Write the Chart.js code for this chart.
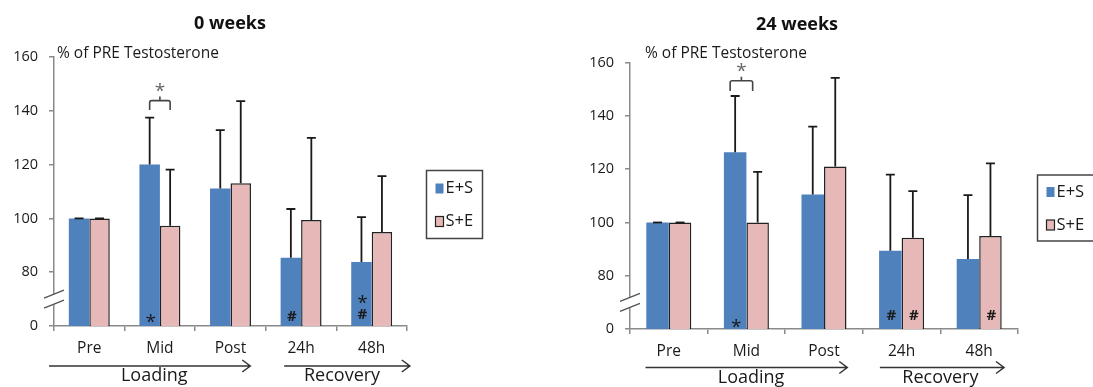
<!DOCTYPE html>
<html>
<head>
<meta charset="utf-8">
<script src="https://cdn.jsdelivr.net/npm/chart.js@4.4.1/dist/chart.umd.min.js"></script>
<style>
body{margin:0;background:#fff;}
canvas{position:absolute;top:0;}
#week0{left:0;}
#week24{left:560px;}
</style>
</head>
<body>
<canvas id="week0" width="560" height="387"></canvas>
<canvas id="week24" width="533" height="387"></canvas>
<script>
// data (% of PRE testosterone, mean and SD)
const categories=['Pre','Mid','Post','24h','48h'];
const yTicks=[60,80,100,120,140,160]; // 60 is shown as "0" (broken axis)

const week0ES=[100,120,111.1,85.4,83.8];
const week0SE=[100,97.3,113.1,99.4,94.9];
const week0ESsd=[0,17.5,21.7,18.1,16.7];
const week0SEsd=[0,20.8,30.5,30.5,20.8];

const week24ES=[100,126.4,110.5,89.4,86.3];
const week24SE=[100,100,121,94.3,94.9];
const week24ESsd=[0,21.1,25.5,28.6,24];
const week24SEsd=[0,19,33.3,17.5,27.3];

// significance marks: [dataset, category, symbol, y value]
const week0Marks=[[0,1,'*',62.9],[0,3,'#',63.5],[0,4,'*',69.9],[0,4,'#',64.1]];
const week24Marks=[[0,1,'*',62],[0,3,'#',64.8],[1,3,'#',64.8],[1,4,'#',64.8]];

Chart.defaults.font.family="'Open Sans', sans-serif";

const FONT="'Open Sans', sans-serif";

function makeExtras(p){
return{
id:'extras',
afterDatasetsDraw(chart){
const ctx=chart.ctx,y=chart.scales.y;
ctx.save();
// error bars (upper only)
ctx.strokeStyle='#1a1a1a';ctx.lineWidth=1.8;
chart.data.datasets.forEach((ds,di)=>{
chart.getDatasetMeta(di).data.forEach((bar,i)=>{
const top=y.getPixelForValue(ds.data[i]+p.sd[di][i]);
ctx.beginPath();
ctx.moveTo(bar.x,bar.y);ctx.lineTo(bar.x,top);
ctx.moveTo(bar.x-4.5,top);ctx.lineTo(bar.x+4.5,top);
ctx.stroke();
});
});
// marks inside bars
ctx.fillStyle='#1a1a1a';ctx.textAlign='center';ctx.textBaseline='middle';
p.marks.forEach(m=>{
const bar=chart.getDatasetMeta(m[0]).data[m[1]];
ctx.font=(m[2]==='*'?'19px ':'bold 15px ')+FONT;
ctx.fillText(m[2],bar.x+1,y.getPixelForValue(m[3])+(m[2]==='*'?4:0));
});
// bracket over Mid
const a=chart.getDatasetMeta(0).data[1].x+p.brDx,b=chart.getDatasetMeta(1).data[1].x+p.brDx;
const yb=y.getPixelForValue(p.bracket[0]),yt=y.getPixelForValue(p.bracket[1]),ys=y.getPixelForValue(p.bracket[2]);
const mid=(a+b)/2;
ctx.strokeStyle='#444';ctx.lineWidth=1.6;
ctx.beginPath();
ctx.moveTo(a,yb);ctx.lineTo(a,yt+2);ctx.quadraticCurveTo(a,yt,a+2,yt);
ctx.lineTo(b-2,yt);ctx.quadraticCurveTo(b,yt,b,yt+2);ctx.lineTo(b,yb);
ctx.moveTo(mid,yt);ctx.lineTo(mid,yt-4);
ctx.stroke();
ctx.fillStyle='#666';ctx.font='19px '+FONT;
ctx.fillText('*',mid,ys+4);
ctx.restore();
},
afterDraw(chart){
const ctx=chart.ctx,x=chart.scales.x,y=chart.scales.y,area=chart.chartArea;
ctx.save();
// title + unit label
ctx.fillStyle='#111';ctx.textAlign='center';ctx.textBaseline='middle';
ctx.font='bold 18px '+FONT;
ctx.fillText(p.title,p.titleX,p.titleY);
ctx.textAlign='left';ctx.font='15.5px '+FONT;ctx.fillStyle='#1a1a1a';
ctx.fillText('% of PRE Testosterone',p.unitX,54);
// axis break
const cx=area.left,cy=y.getPixelForValue(70);
ctx.fillStyle='#fff';
ctx.beginPath();
ctx.moveTo(cx-10,cy-1);ctx.lineTo(cx+10,cy-9);ctx.lineTo(cx+10,cy+1);ctx.lineTo(cx-10,cy+9);
ctx.closePath();ctx.fill();
ctx.strokeStyle='#555';ctx.lineWidth=1.5;
ctx.beginPath();
ctx.moveTo(cx-10,cy-1);ctx.lineTo(cx+10,cy-9);
ctx.moveTo(cx-10,cy+9);ctx.lineTo(cx+10,cy+1);
ctx.stroke();
// phase arrows
ctx.strokeStyle='#333';ctx.fillStyle='#1a1a1a';ctx.textAlign='center';
ctx.font='18px '+FONT;
p.phases.forEach(ph=>{
const x0=x.getPixelForValue(ph[1]),x1=x.getPixelForValue(ph[2]);
const ay=area.bottom+p.arrowDy;
ctx.beginPath();
ctx.moveTo(x0,ay);ctx.lineTo(x1,ay);
ctx.moveTo(x1-8,ay-6);ctx.lineTo(x1,ay);ctx.lineTo(x1-8,ay+6);
ctx.stroke();
ctx.fillText(ph[0],x.getPixelForValue(ph[3]),area.bottom+p.textDy);
});
// legend
const L=p.legend;
ctx.strokeStyle='#444';ctx.lineWidth=1.5;
ctx.strokeRect(L[0],L[1],L[2],L[3]);
ctx.textAlign='left';ctx.font='16.5px '+FONT;
chart.data.datasets.forEach((ds,i)=>{
const iy=L[1]+p.legRow[i];
ctx.fillStyle=ds.backgroundColor;
ctx.fillRect(L[0]+9,iy-5,8,10);
if(ds.borderWidth){ctx.strokeStyle='#222';ctx.lineWidth=1.2;ctx.strokeRect(L[0]+9,iy-5,8,10);}
ctx.fillStyle='#1a1a1a';
ctx.fillText(ds.label,L[0]+19,iy);
});
ctx.restore();
}
};
}

function makePanel(id,p){
return new Chart(document.getElementById(id),{
type:'bar',
data:{
labels:categories,
datasets:[
{label:'E+S',data:p.es,backgroundColor:'#4F81BD',borderWidth:0,categoryPercentage:0.58,barPercentage:1},
{label:'S+E',data:p.se,backgroundColor:'#E6B9B8',borderColor:'#222',borderWidth:1.5,categoryPercentage:0.58,barPercentage:1}
]
},
options:{
responsive:false,
animation:false,
events:[],
layout:{padding:p.pad},
plugins:{legend:{display:false},tooltip:{enabled:false}},
scales:{
x:{
grid:{drawOnChartArea:false,tickLength:5,color:'#8a8a8a',lineWidth:1.5},
border:{color:'#8a8a8a',width:1.5},
ticks:{padding:8,color:'#1a1a1a',font:{size:15.5}},
afterFit(s){s.height=30;}
},
y:{
min:60,max:160,
afterBuildTicks(s){s.ticks=yTicks.map(v=>({value:v}));},
grid:{drawOnChartArea:false,tickLength:5,color:'#8a8a8a',lineWidth:1.5},
border:{color:'#8a8a8a',width:1.5},
ticks:{padding:11,color:'#1a1a1a',font:{size:14.5},callback:v=>v===60?'0':v},
afterFit(s){s.width=40;}
}
}
},
plugins:[makeExtras(p)]
});
}

makePanel('week0',{
es:week0ES,se:week0SE,sd:[week0ESsd,week0SEsd],marks:week0Marks,
title:'0 weeks',titleX:230,titleY:24,unitX:57,
bracket:[140.3,143.8,148.8],brDx:0,
phases:[['Loading',-0.57,2.28,0.92],['Recovery',2.76,4.54,3.58]],
arrowDy:40,textDy:50,
legend:[426.5,170.5,56,68],legRow:[18,51],
pad:{left:14,right:153,top:57,bottom:31}
});

makePanel('week24',{
es:week24ES,se:week24SE,sd:[week24ESsd,week24SEsd],marks:week24Marks,
title:'24 weeks',titleX:237,titleY:25,unitX:85,
bracket:[149.4,153.2,158.3],brDx:-5,
phases:[['Loading',-0.3,2.3,1.06],['Recovery',2.72,4.32,3.5]],
arrowDy:38.5,textDy:49,
legend:[477.5,175,62,66],legRow:[17,50],
pad:{left:30,right:75,top:62.7,bottom:28}
});
</script>
</body>
</html>
